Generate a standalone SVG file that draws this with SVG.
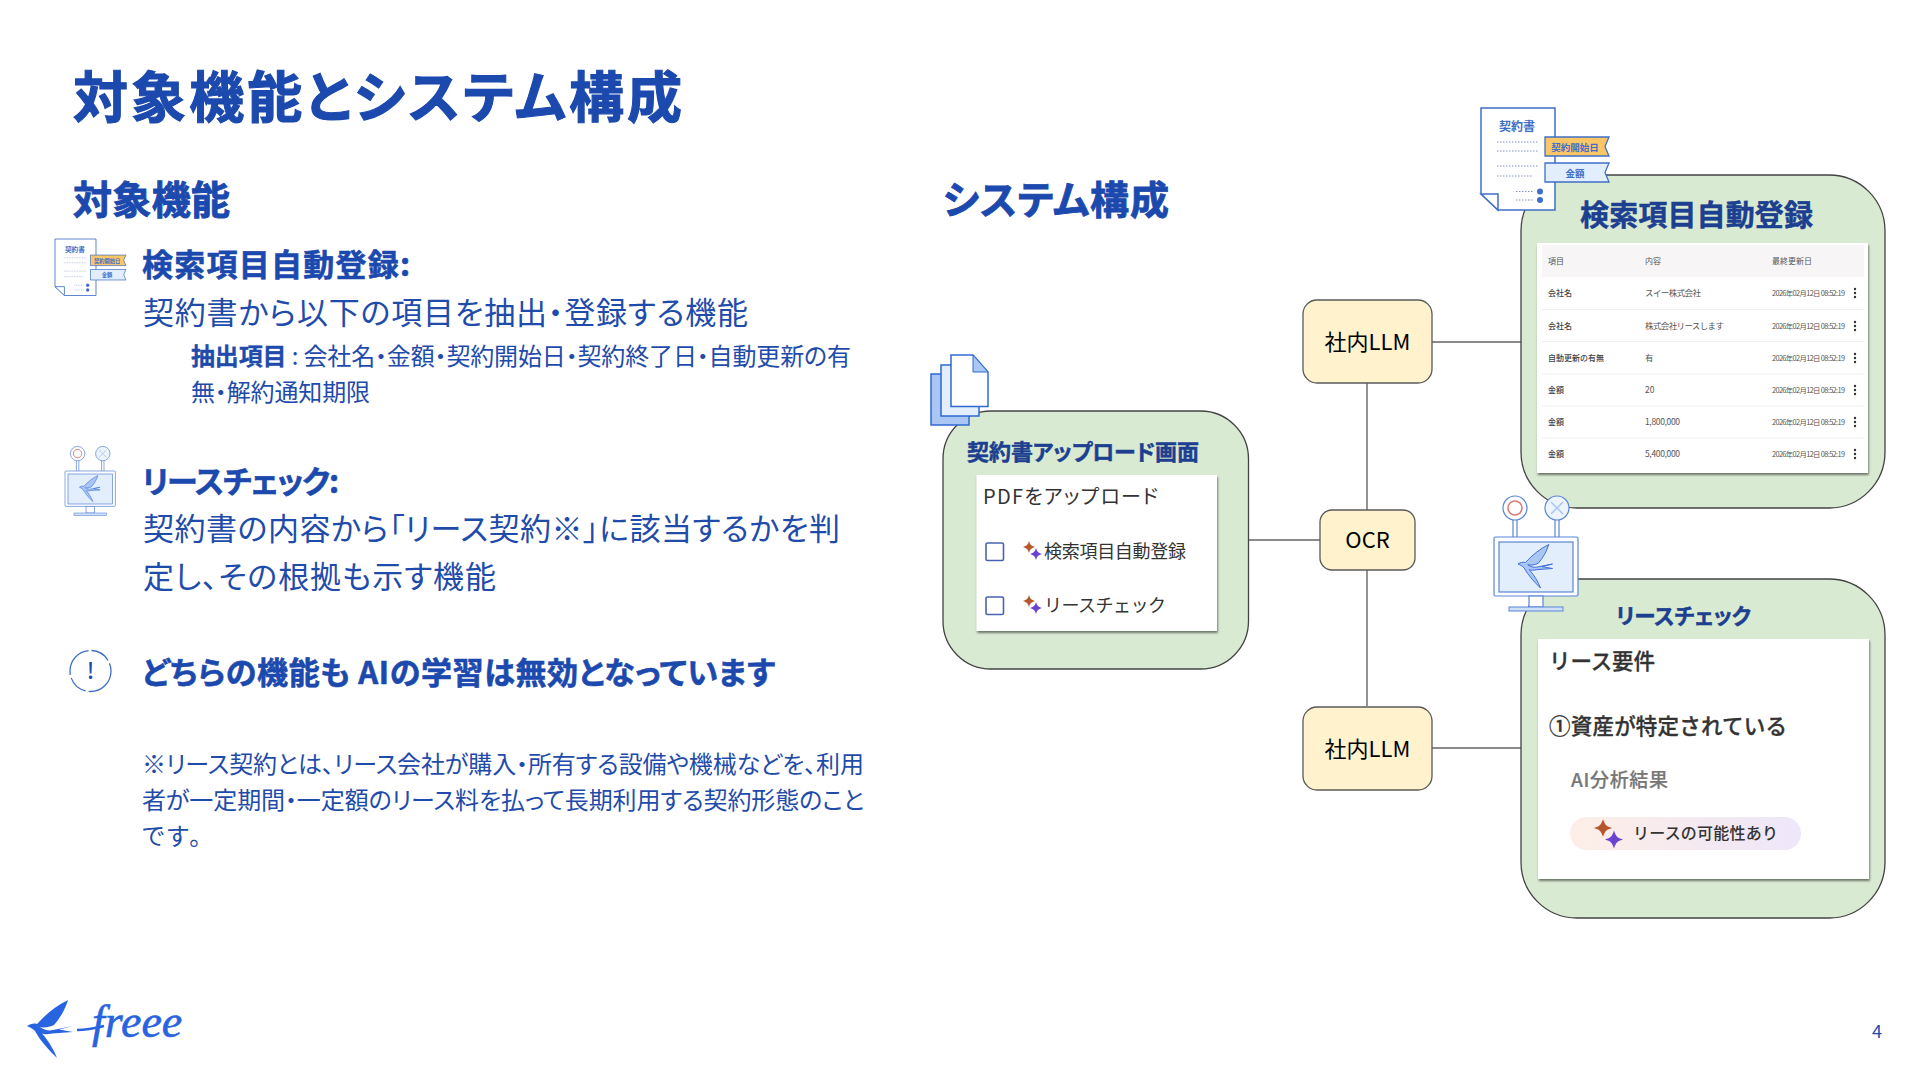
<svg xmlns="http://www.w3.org/2000/svg" width="1920" height="1080" viewBox="0 0 1920 1080">
<style>
text{font-family:"Noto Sans CJK JP","Noto Sans",sans-serif;}
.p{font-feature-settings:"palt";}
.h{fill:#1c49ad;font-weight:700;stroke:#1c49ad;font-feature-settings:"palt";}
.b{fill:#1f4cab;font-feature-settings:"palt";}
.box{fill:#d9ead3;stroke:#434343;stroke-width:1.3;}
.llm{fill:#fff2cc;stroke:#595959;stroke-width:1.3;}
.conn{fill:none;stroke:#666;stroke-width:1.4;}
.bt{fill:#1c3f8f;font-weight:700;stroke:#1c3f8f;stroke-width:.5;font-feature-settings:"palt";}
.card{fill:#fff;filter:url(#sh);}
.nt{fill:#000;font-size:22px;text-anchor:middle;}
.th{fill:#555;font-size:8px;}
.k{fill:#444;font-size:8px;font-weight:500;}
.v{fill:#555;font-size:8.5px;}
.d{fill:#555;font-size:7.4px;}
.sep{stroke:#f1f1f1;stroke-width:1;}
.dots{fill:#333;}
.ib{fill:#fff;stroke:#3f6fc6;stroke-width:1.5;}
.dl{stroke:#7f94c4;stroke-width:1;stroke-dasharray:1.5 1.5;fill:none;}
</style>
<defs>
<filter id="sh" x="-5%" y="-5%" width="110%" height="112%"><feDropShadow dx=".8" dy="2" stdDeviation="1.2" flood-color="#000" flood-opacity=".5"/></filter>
<linearGradient id="pill" x1="0" x2="1" y1="0" y2="0"><stop offset="0" stop-color="#fdeee6"/><stop offset="1" stop-color="#eee6fa"/></linearGradient>
<path id="star" d="M0 -1C.2 -.35 .35 -.2 1 0C.35 .2 .2 .35 0 1C-.2 .35 -.35 .2 -1 0C-.35 -.2 -.2 -.35 0 -1Z"/>
<path id="bird" d="M27 1026C30 1024 34 1023 37 1024C46 1014 56 1006 68 1000C65 1010 60 1018 54 1025C50 1027 44 1028 40 1027C44 1030 49 1031 53 1030L73 1026L59 1029.500L73 1032L52 1033.500C48 1034.500 44 1034.500 42 1033.500C48 1040 54 1050 57 1058C50 1051 41 1042 35 1031C33 1029 30 1027 27 1026Z"/>
<g id="contract">
<path class="ib" d="M1481 108H1555V210H1498L1481 194Z"/>
<path class="ib" d="M1481 194H1498V210Z" fill="#fff"/>
<text x="1517" y="131" text-anchor="middle" font-size="12" font-weight="700" fill="#3f6fc6">契約書</text>
<path class="dl" d="M1497 142H1539M1497 151H1539M1497 166H1539M1497 176H1532M1516 191.500H1534M1516 200H1534"/>
<circle cx="1540" cy="191.500" r="3" fill="#3f6fc6"/><circle cx="1540" cy="200" r="3" fill="#3f6fc6"/>
<path d="M1545 137H1609L1605 146.500L1609 156H1545Z" fill="#fbc766" stroke="#3f6fc6" stroke-width="1.300"/>
<text x="1575" y="151" text-anchor="middle" font-size="9.500" font-weight="700" fill="#3f6fc6">契約開始日</text>
<path d="M1545 163H1609L1605 172.500L1609 182H1545Z" fill="#e3eefd" stroke="#3f6fc6" stroke-width="1.300"/>
<text x="1575" y="177" text-anchor="middle" font-size="9.500" font-weight="700" fill="#3f6fc6">金額</text>
</g>
<g id="monitor">
<circle cx="1515" cy="508" r="12" fill="#fff" stroke="#5b86d6" stroke-width="1.200"/><circle cx="1515" cy="508" r="7" fill="none" stroke="#e07a7a" stroke-width="1.600"/>
<path d="M1513 520V537M1517 520V537M1555 520V537M1559 520V537" stroke="#5b86d6" stroke-width="1.200" fill="none"/>
<circle cx="1557" cy="508" r="12" fill="#eef4fe" stroke="#5b86d6" stroke-width="1.200"/><path d="M1551 502L1563 514M1563 502L1551 514" stroke="#a9c6f5" stroke-width="1.500"/>
<rect x="1494" y="537" width="84" height="59" rx="1.500" fill="#fff" stroke="#5b86d6" stroke-width="1.200"/>
<rect x="1499" y="542" width="74" height="50" fill="#e3eefd" stroke="#5b86d6" stroke-width="1.200"/>
<use href="#bird" transform="translate(1497.750 -205.500) scale(.75)" fill="#a9c6f5" stroke="#3d6cd8" stroke-width="1.300"/>
<rect x="1529" y="596" width="14" height="11" fill="#fff" stroke="#5b86d6" stroke-width="1.200"/>
<rect x="1509" y="607" width="54" height="4" fill="#cfe0f8" stroke="#5b86d6" stroke-width="1"/>
</g>
</defs>
<rect width="1920" height="1080" fill="#fff"/>

<g id="header">
<text class="h" x="73" y="117" font-size="55" stroke-width="1.100" textLength="609">対象機能とシステム構成</text>
<text class="h" x="73" y="214" font-size="39" stroke-width=".9" textLength="157">対象機能</text>
<text class="h" x="943" y="214" font-size="39" stroke-width=".9" textLength="226">システム構成</text>
</g>

<g id="feature-left">
<text class="h" x="142" y="276" font-size="31" stroke-width=".6" textLength="268">検索項目自動登録:</text>
<text class="b" x="143" y="324" font-size="31" textLength="605">契約書から以下の項目を抽出・登録する機能</text>
<text class="b" x="191" y="365" font-size="24" textLength="660"><tspan font-weight="700" stroke="#1f4cab" stroke-width=".3">抽出項目</tspan> : 会社名・金額・契約開始日・契約終了日・自動更新の有</text>
<text class="b" x="191" y="401" font-size="24" textLength="179">無・解約通知期限</text>
<text class="h" x="142" y="493" font-size="31" stroke-width=".6" textLength="197">リースチェック:</text>
<text class="b" x="143" y="540" font-size="31" textLength="697">契約書の内容から「リース契約※」に該当するかを判</text>
<text class="b" x="143" y="588" font-size="31" textLength="353">定し、その根拠も示す機能</text>
<text class="h" x="142" y="684" font-size="31" stroke-width=".6" textLength="633">どちらの機能も AIの学習は無効となっています</text>
<text class="b" x="142" y="773" font-size="24" textLength="722">※リース契約とは、リース会社が購入・所有する設備や機械などを、利用</text>
<text class="b" x="142" y="809" font-size="24" textLength="722">者が一定期間・一定額のリース料を払って長期利用する契約形態のこと</text>
<text class="b" x="142" y="845" font-size="24" textLength="59">です。</text>
</g>

<g id="icon-contract-small"><use href="#contract" transform="translate(55 239) scale(.554) translate(-1481 -108)"/></g>
<g id="icon-monitor-small"><use href="#monitor" transform="translate(65 471) scale(.6) translate(-1494 -537)"/></g>
<g id="icon-notice">
<circle cx="90.500" cy="671" r="20.500" fill="none" stroke="#3f6fc6" stroke-width="1.300" stroke-dasharray="34 3 20 3"/>
<text x="90.500" y="679" text-anchor="middle" font-size="22" font-weight="500" fill="#1f4cab">!</text>
</g>

<g id="connectors">
<path class="conn" d="M1367 383V510M1367 570V706M1249 540H1320M1432 342H1521M1432 748H1521"/>
</g>

<g id="upload">
<rect class="box" x="943" y="411" width="305.500" height="258" rx="48"/>
<text class="bt" x="967" y="460" font-size="22" textLength="232">契約書アップロード画面</text>
<rect class="card" x="976.500" y="475" width="240.500" height="156"/>
<text x="983" y="504" font-size="20" fill="#333" class="p" textLength="175">PDFをアップロード</text>
<rect x="986" y="543" width="17.500" height="17.500" rx="1.500" fill="#fff" stroke="#4a63b0" stroke-width="1.600"/>
<rect x="986" y="597" width="17.500" height="17.500" rx="1.500" fill="#fff" stroke="#4a63b0" stroke-width="1.600"/>
<use href="#star" transform="translate(1029 547) scale(6)" fill="#b5562b"/><use href="#star" transform="translate(1036 554) scale(6)" fill="#6b43d0"/>
<use href="#star" transform="translate(1029 601) scale(6)" fill="#b5562b"/><use href="#star" transform="translate(1036 608) scale(6)" fill="#6b43d0"/>
<text x="1044" y="558" font-size="18" fill="#333" textLength="142">検索項目自動登録</text>
<text x="1044" y="612" font-size="18" fill="#333" textLength="122">リースチェック</text>
</g>
<g id="icon-docs">
<path d="M931 374H969V425H931Z" fill="#a9c6f5" stroke="#2f6ad0" stroke-width="1.500"/>
<path d="M941 365H979V416H941Z" fill="#e3eefd" stroke="#2f6ad0" stroke-width="1.500"/>
<path d="M951 355H973L988 372V406.500H951Z" fill="#fff" stroke="#2f6ad0" stroke-width="1.500"/>
<path d="M973 355L988 372H973Z" fill="#a9c6f5" stroke="#2f6ad0" stroke-width="1"/>
</g>

<g id="ocr"><rect class="llm" x="1320" y="510" width="95" height="60" rx="12"/><text class="nt" x="1367.500" y="548">OCR</text></g>
<g id="llm-top"><rect class="llm" x="1303" y="300" width="129" height="83" rx="14"/><text class="nt" x="1367.500" y="350">社内LLM</text></g>
<g id="llm-bottom"><rect class="llm" x="1303" y="707" width="129" height="83" rx="14"/><text class="nt" x="1367.500" y="757">社内LLM</text></g>

<g id="auto-register">
<rect class="box" x="1521" y="175" width="364" height="333" rx="56"/>
<text class="bt" x="1580" y="226" font-size="29" stroke-width=".7" textLength="233">検索項目自動登録</text>
<rect class="card" x="1537" y="243" width="331" height="230"/>
<rect x="1542" y="245" width="322" height="32" fill="#f7f5f6"/>
<path class="sep" d="M1542 309.500H1864M1542 341.500H1864M1542 374H1864M1542 406H1864M1542 438H1864"/>
<text class="th" x="1548" y="264">項目</text><text class="th" x="1645" y="264">内容</text><text class="th" x="1772" y="264">最終更新日</text>
<text class="k" x="1548" y="296">会社名</text><text class="v" x="1645" y="296" textLength="56">スイー株式会社</text><text class="d" x="1772" y="296" textLength="73">2026年02月12日 08:52:19</text>
<text class="k" x="1548" y="329">会社名</text><text class="v" x="1645" y="329" textLength="79">株式会社リースします</text><text class="d" x="1772" y="329" textLength="73">2026年02月12日 08:52:19</text>
<text class="k" x="1548" y="361">自動更新の有無</text><text class="v" x="1645" y="361">有</text><text class="d" x="1772" y="361" textLength="73">2026年02月12日 08:52:19</text>
<text class="k" x="1548" y="393">金額</text><text class="v" x="1645" y="393">20</text><text class="d" x="1772" y="393" textLength="73">2026年02月12日 08:52:19</text>
<text class="k" x="1548" y="425">金額</text><text class="v" x="1645" y="425" textLength="35">1,800,000</text><text class="d" x="1772" y="425" textLength="73">2026年02月12日 08:52:19</text>
<text class="k" x="1548" y="457">金額</text><text class="v" x="1645" y="457" textLength="35">5,400,000</text><text class="d" x="1772" y="457" textLength="73">2026年02月12日 08:52:19</text>
<g class="dots">
<circle cx="1855" cy="289" r="1.200"/><circle cx="1855" cy="293" r="1.200"/><circle cx="1855" cy="297" r="1.200"/>
<circle cx="1855" cy="322" r="1.200"/><circle cx="1855" cy="326" r="1.200"/><circle cx="1855" cy="330" r="1.200"/>
<circle cx="1855" cy="354" r="1.200"/><circle cx="1855" cy="358" r="1.200"/><circle cx="1855" cy="362" r="1.200"/>
<circle cx="1855" cy="386" r="1.200"/><circle cx="1855" cy="390" r="1.200"/><circle cx="1855" cy="394" r="1.200"/>
<circle cx="1855" cy="418" r="1.200"/><circle cx="1855" cy="422" r="1.200"/><circle cx="1855" cy="426" r="1.200"/>
<circle cx="1855" cy="450" r="1.200"/><circle cx="1855" cy="454" r="1.200"/><circle cx="1855" cy="458" r="1.200"/>
</g>
</g>
<g id="icon-contract"><use href="#contract"/></g>

<g id="lease-check">
<rect class="box" x="1521" y="579" width="364" height="339" rx="56"/>
<text class="bt" x="1616" y="624" font-size="21.500" textLength="135">リースチェック</text>
<rect class="card" x="1538" y="639" width="331" height="240"/>
<text x="1549" y="669" font-size="21.500" font-weight="500" fill="#333" stroke="#333" stroke-width=".3" textLength="106">リース要件</text>
<text x="1549" y="734" font-size="21.500" font-weight="500" fill="#333" stroke="#333" stroke-width=".3" textLength="238">①資産が特定されている</text>
<text x="1571" y="787" font-size="19" font-weight="500" fill="#777" stroke="#777" stroke-width=".2" textLength="97">AI分析結果</text>
<rect x="1570" y="817" width="231" height="33" rx="16.500" fill="url(#pill)"/>
<use href="#star" transform="translate(1603 828) scale(9)" fill="#b5562b"/><use href="#star" transform="translate(1614 839.500) scale(9)" fill="#6b43d0"/>
<text x="1633" y="839" font-size="16" font-weight="500" fill="#333" textLength="145">リースの可能性あり</text>
</g>
<g id="icon-monitor"><use href="#monitor"/></g>

<g id="logo">
<use href="#bird" fill="#2864e0"/>
<path d="M77 1030C88 1030 96 1028 104 1026" fill="none" stroke="#2864e0" stroke-width="2.500"/>
<text x="92" y="1037" font-size="46" font-style="italic" style="font-family:'Liberation Serif',serif" fill="#2864e0" stroke="#2864e0" stroke-width=".6">freee</text>
</g>
<text id="page" x="1877" y="1038" font-size="18" fill="#1f4cab" text-anchor="middle">4</text>
</svg>
